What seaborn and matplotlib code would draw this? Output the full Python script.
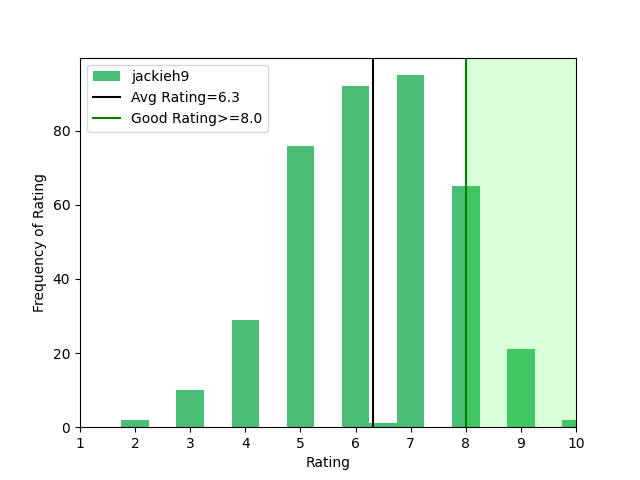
import matplotlib
matplotlib.use("Agg")
import matplotlib.pyplot as plt
import seaborn as sns

# ratings (bin centres) and how often each one was given
ratings = [2, 3, 4, 5, 6, 6.5, 7, 8, 9, 10]
counts = [2, 10, 29, 76, 92, 1, 95, 65, 21, 2]
user_name = "jackieh9"
avg_rating = 6.32
good_rating = 8.0

fig, ax = plt.subplots(figsize=(6.4, 4.8), dpi=100)

sns.histplot(
    x=ratings,
    weights=counts,
    binwidth=0.5,
    binrange=(1.75, 10.25),
    color="#0ca846",
    alpha=0.75,
    linewidth=0,
    label=user_name,
    ax=ax,
)
ax.axvline(avg_rating, color="black", label=f"Avg Rating={avg_rating:.1f}")
ax.axvline(good_rating, color="green", label=f"Good Rating>={good_rating}")
ax.axvspan(good_rating, 10, color="lime", alpha=0.15, linewidth=0)

ax.set_xlim(1, 10)
ax.set_xticks(range(1, 11))
ax.set_xlabel("Rating")
ax.set_ylabel("Frequency of Rating")

# histogram entry first, then the two reference lines
handles, labels = ax.get_legend_handles_labels()
order = [labels.index(user_name)] + [i for i, lab in enumerate(labels) if lab != user_name]
ax.legend([handles[i] for i in order], [labels[i] for i in order], loc="upper left")

plt.savefig("out.png", dpi=100)
